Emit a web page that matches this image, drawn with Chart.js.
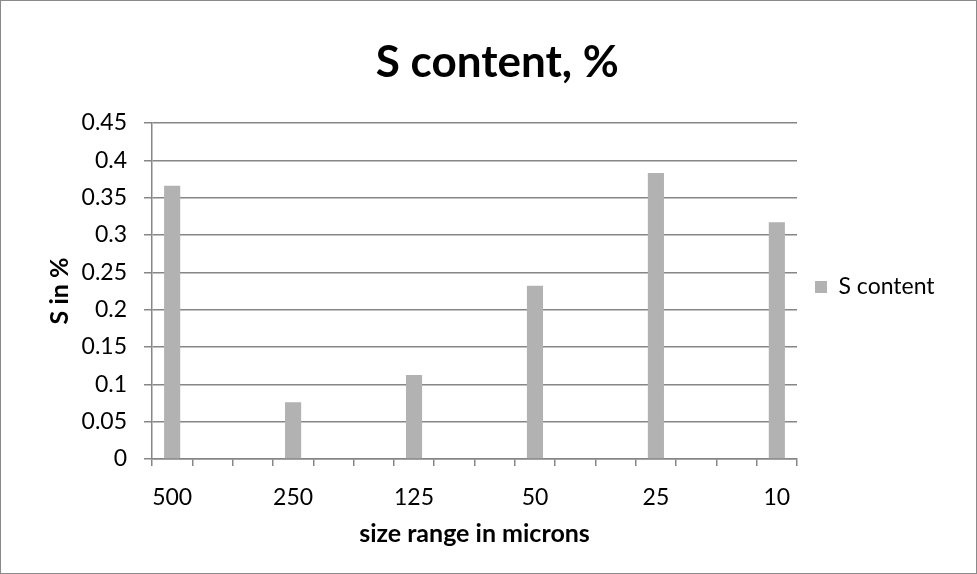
<!DOCTYPE html>
<html>
<head>
<meta charset="utf-8">
<script src="https://cdn.jsdelivr.net/npm/chart.js@4/dist/chart.umd.min.js"></script>
<style>
  html, body { margin: 0; padding: 0; background: #ffffff; }
  #wrap { width: 977px; height: 574px; position: relative; }
</style>
</head>
<body>
<div id="wrap"><canvas id="c" width="977" height="574"></canvas></div>
<script>
// Measured size ranges (microns) and sulphur content (%)
const sizeRanges = ['500', '250', '125', '50', '25', '10'];
const sContent = [0.366, 0.076, 0.1125, 0.232, 0.383, 0.317];
const seriesName = 'S content';
const yTickValues = [0, 0.05, 0.1, 0.15, 0.2, 0.25, 0.3, 0.35, 0.4, 0.45];

// Two empty category slots sit between consecutive size ranges on the axis
const EMPTY_SLOTS = 2;
const labels = [];
const values = [];
sizeRanges.forEach((s, i) => {
  if (i > 0) {
    for (let k = 0; k < EMPTY_SLOTS; k++) { labels.push(''); values.push(null); }
  }
  labels.push(s);
  values.push(sContent[i]);
});

const FONT = 'Lato';
const TICK_SIZE = 23;
const AXIS_TITLE_SIZE = 25;
const TITLE_SIZE = 44;
const LEGEND_SIZE = 23;
const LEGEND_BOX = 12;
const LEGEND_PAD = 18;
const GRID = '#868686';
const BAR = '#b2b2b2';

// Reserve the legend column (Chart.js adds 10px to a vertical legend) so the plot ends at x=797
const mctx = document.createElement('canvas').getContext('2d');
mctx.font = LEGEND_SIZE + 'px ' + FONT;
const legendTextW = mctx.measureText(seriesName).width;
const legendW = LEGEND_PAD + LEGEND_BOX + LEGEND_SIZE / 2 + legendTextW + 10;
const plotRight = 797;
const padRight = Math.max(0, 977 - plotRight - legendW);

const frame = {
  id: 'frame',
  afterLayout(chart) {
    // the chart title sits to the right of the plot's centre
    if (chart.titleBlock) {
      chart.titleBlock.left += 25;
      chart.titleBlock.right += 25;
    }
  },
  beforeDraw(chart) {
    const c = chart.ctx;
    c.save();
    c.fillStyle = '#ffffff';
    c.fillRect(0, 0, chart.width, chart.height);
    c.restore();
  },
  afterDraw(chart) {
    const c = chart.ctx;
    c.save();
    c.strokeStyle = '#8a8a8a';
    c.lineWidth = 1;
    c.strokeRect(0.5, 0.5, chart.width - 1, chart.height - 1);
    c.restore();
  }
};

new Chart(document.getElementById('c'), {
  type: 'bar',
  data: {
    labels: labels,
    datasets: [{
      label: seriesName,
      data: values,
      backgroundColor: BAR,
      borderWidth: 0,
      categoryPercentage: 1.0,
      barPercentage: 0.4
    }]
  },
  options: {
    responsive: false,
    animation: false,
    devicePixelRatio: 1,
    layout: { padding: { left: 0, right: padRight, top: 0, bottom: 0 } },
    plugins: {
      title: {
        display: true,
        text: 'S content, %',
        color: '#000000',
        font: { family: FONT, size: TITLE_SIZE, weight: 'bold' },
        padding: { top: 36, bottom: 34.2 }
      },
      legend: {
        position: 'right',
        align: 'center',
        labels: {
          color: '#000000',
          font: { family: FONT, size: LEGEND_SIZE },
          boxWidth: LEGEND_BOX,
          boxHeight: LEGEND_BOX,
          padding: LEGEND_PAD
        }
      },
      tooltip: { enabled: false }
    },
    scales: {
      x: {
        grid: {
          display: true,
          drawOnChartArea: false,
          drawTicks: true,
          tickLength: 7,
          color: GRID,
          lineWidth: 1.5,
          offset: true
        },
        border: { display: true, color: GRID, width: 1.5 },
        ticks: {
          autoSkip: false,
          maxRotation: 0,
          minRotation: 0,
          color: '#000000',
          padding: 18,
          font: { family: FONT, size: TICK_SIZE }
        },
        title: {
          display: true,
          text: 'size range in microns',
          color: '#000000',
          font: { family: FONT, size: AXIS_TITLE_SIZE, weight: 'bold' },
          padding: { top: 0, bottom: 25 }
        },
        afterFit(scale) { scale.height = 115; }
      },
      y: {
        min: 0,
        max: 0.45,
        afterBuildTicks(scale) {
          scale.ticks = yTickValues.map(v => ({ value: v }));
        },
        grid: {
          color: GRID,
          lineWidth: 1.5,
          drawTicks: true,
          tickLength: 8
        },
        border: { display: true, color: GRID, width: 1.5 },
        ticks: {
          color: '#000000',
          padding: 17,
          font: { family: FONT, size: TICK_SIZE },
          callback: v => String(Math.round(v * 100) / 100)
        },
        title: {
          display: true,
          text: 'S in %',
          color: '#000000',
          font: { family: FONT, size: AXIS_TITLE_SIZE, weight: 'bold' },
          padding: { top: 45, bottom: 0 }
        },
        afterFit(scale) { scale.width = 152; }
      }
    }
  },
  plugins: [frame]
});
</script>
</body>
</html>
